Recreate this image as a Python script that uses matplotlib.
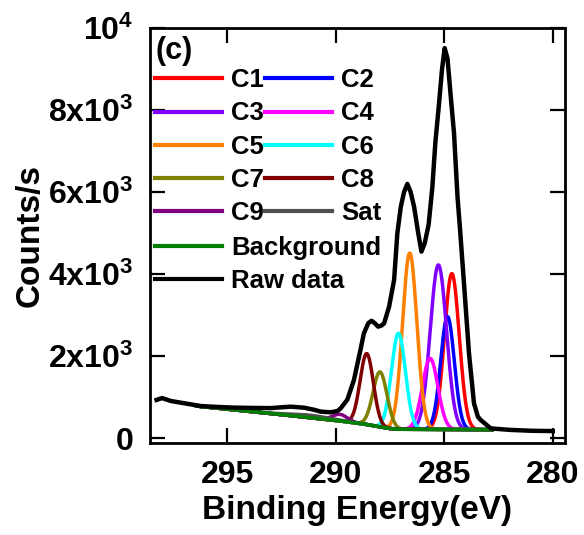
import numpy as np
import matplotlib
matplotlib.use("Agg")
import matplotlib.pyplot as plt

plt.rcParams['font.family'] = ['Liberation Sans', 'DejaVu Sans']
plt.rcParams['font.weight'] = 'bold'
plt.rcParams['mathtext.fontset'] = 'custom'
plt.rcParams['mathtext.rm'] = 'Liberation Sans:bold'
plt.rcParams['mathtext.bf'] = 'Liberation Sans:bold'
plt.rcParams['mathtext.it'] = 'Liberation Sans:bold'

# raw spectrum (binding energy eV, counts/s)
raw_x = [298.25, 298.0, 297.6, 297.0, 296.2, 295.5, 294.7, 293.9, 293.0, 292.5,
         292.07, 291.46, 291.0, 290.69, 290.23, 289.92, 289.77, 289.46, 289.16, 288.9,
         288.7, 288.5, 288.35, 288.2, 288.05, 287.9, 287.77, 287.54, 287.31, 287.16,
         287.0, 286.85, 286.7, 286.55, 286.39, 286.2, 286.05, 285.9, 285.72, 285.55,
         285.41, 285.25, 285.1, 284.98, 284.85, 284.7, 284.55, 284.39, 284.27, 284.08,
         283.86, 283.63, 283.45, 283.32, 282.86, 282.0, 281.0, 280.0]
raw_y = [930, 975, 905, 850, 780, 760, 742, 735, 730, 750,
         765, 740, 690, 645, 627, 660, 724, 940, 1415, 2050,
         2553, 2800, 2860, 2800, 2716, 2740, 2797, 3203, 3854, 4993,
         5641, 6000, 6195, 6000, 5641, 5000, 4544, 4750, 5200, 6100,
         7200, 8100, 9000, 9505, 9250, 8325, 7431, 5886, 5073, 3690,
         2066, 846, 520, 439, 236, 200, 178, 170]

# Shirley-type background
bg_x = [296.4, 293.0, 290.0, 288.8, 287.6, 287.2, 282.8]
bg_y = [780, 600, 430, 350, 240, 215, 205]

# fitted components: name, centre (eV), height above background, FWHM (eV)
comp_names = ["C1", "C2", "C3", "C4", "C5", "C6", "C7", "C8", "C9", "Sat"]
comp_center = [284.65, 284.85, 285.27, 285.65, 286.59, 287.11, 287.96, 288.57, 289.8, 291.2]
comp_height = [3800, 2750, 4010, 1730, 4295, 2340, 1340, 1730, 160, 60]
comp_fwhm = [0.80, 0.74, 0.88, 0.84, 0.78, 0.76, 0.76, 0.72, 0.80, 2.2]
comp_colors = ["#ff0000", "#0000ff", "#8000ff", "#ff00ff", "#ff8000", "#00ffff",
               "#808000", "#800000", "#800080", "#505050"]

yticks = [0, 2000, 4000, 6000, 8000, 10000]
ytick_labels = ["0", "2x10$^3$", "4x10$^3$", "6x10$^3$", "8x10$^3$", "10$^4$"]
xticks = [295, 290, 285, 280]


def main():
    fig = plt.figure(figsize=(5.84, 5.35), dpi=100)
    ax = fig.add_axes([0.257, 0.172, 0.710, 0.776])

    grid = np.linspace(296.4, 282.8, 700)
    base = np.interp(grid, bg_x[::-1], bg_y[::-1])
    handles = {}
    for name, c, h, w, col in zip(comp_names, comp_center, comp_height, comp_fwhm, comp_colors):
        peak = h * np.exp(-4 * np.log(2) * ((grid - c) / w) ** 2)
        handles[name], = ax.plot(grid, base + peak, color=col, lw=2.5)

    handles["Background"], = ax.plot(bg_x, bg_y, color="#008000", lw=2.6)
    handles["Raw data"], = ax.plot(raw_x, raw_y, color="black", lw=3.2)

    ax.set_xlim(298.55, 279.45)
    ax.set_ylim(-120, 10000)
    ax.set_xticks(xticks)
    ax.set_yticks(yticks)
    ax.set_yticklabels(ytick_labels)
    ax.tick_params(direction="in", length=11, width=1.6, top=True, right=True,
                   labelsize=23, pad=12)
    for s in ax.spines.values():
        s.set_linewidth(2)
    ax.set_xlabel("Binding Energy(eV)", fontsize=24, fontweight="bold", labelpad=4)
    ax.set_ylabel("Counts/s", fontsize=24, fontweight="bold", labelpad=2)

    ax.text(0.012, 0.945, "(c)", transform=ax.transAxes, fontsize=22,
            fontweight="bold", va="center", ha="left")

    order = ["C1", "C3", "C5", "C7", "C9", "C2", "C4", "C6", "C8", "Sat"]
    leg1 = ax.legend([handles[k] for k in order], order, ncol=2, loc="upper left",
                     bbox_to_anchor=(0.0, 0.915), frameon=False, fontsize=18.5,
                     handlelength=2.6, handletextpad=0.35, columnspacing=0.05,
                     labelspacing=0.36, borderpad=0.2, borderaxespad=0.0)
    for ln in leg1.get_lines():
        ln.set_linewidth(3)
    ax.add_artist(leg1)
    leg2 = ax.legend([handles["Background"], handles["Raw data"]], ["Background", "Raw data"],
                     loc="upper left", bbox_to_anchor=(0.0, 0.512), frameon=False,
                     fontsize=18.5, handlelength=2.6, handletextpad=0.35,
                     labelspacing=0.36, borderpad=0.2, borderaxespad=0.0)
    for ln in leg2.get_lines():
        ln.set_linewidth(3)

    fig.savefig("out.png", dpi=100)


if __name__ == "__main__":
    main()
